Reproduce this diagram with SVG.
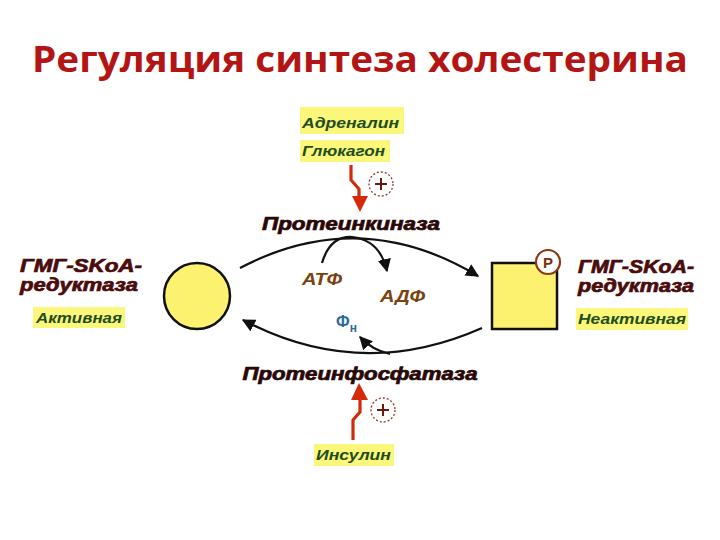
<svg xmlns="http://www.w3.org/2000/svg" width="720" height="540" viewBox="0 0 720 540">
<style>
.title{font-family:"Open Sans","Liberation Sans",sans-serif;font-weight:bold;font-size:35px;fill:#b31414}
.enz{font-family:"Liberation Sans",Arial,sans-serif;font-weight:bold;font-style:italic;font-size:18px;fill:#4a0c0c;stroke:#4a0c0c;stroke-width:0.7}
.lbl{font-family:"Liberation Sans",Arial,sans-serif;font-weight:bold;font-style:italic;font-size:18px;fill:#2a0808;stroke:#2a0808;stroke-width:0.7}
.grn{font-family:"Liberation Sans",Arial,sans-serif;font-style:italic;font-weight:bold;font-size:14px;fill:#1f4d1f}
.hl{fill:#fbf77a}
.nuc{font-family:"Liberation Sans",Arial,sans-serif;font-weight:bold;font-style:italic;font-size:16px;fill:#7a4210}
.pi{font-family:"Liberation Sans",Arial,sans-serif;font-weight:bold;font-size:16px;fill:#2b6a9a}
.arc{fill:none;stroke:#111;stroke-width:2.2}
.bolt{fill:none;stroke:#d42a0a;stroke-width:3.2;stroke-linejoin:miter}
.plus{fill:#fff;stroke:#8a3a2a;stroke-width:1.3;stroke-dasharray:2 2}
.pl{stroke:#6a1a0a;stroke-width:2}
</style>
<defs>
<marker id="ah" viewBox="0 0 10 10" refX="9" refY="5" markerWidth="6" markerHeight="6" orient="auto">
<path d="M0,0 L10,5 L0,10 Z" fill="#111"/>
</marker>
</defs>
<text class="title" x="360" y="72" text-anchor="middle" textLength="656" lengthAdjust="spacingAndGlyphs">Регуляция синтеза холестерина</text>

<g id="hormones-top">
<rect class="hl" x="300" y="107" width="104" height="27"/>
<text class="grn" x="302" y="128" textLength="97" lengthAdjust="spacingAndGlyphs">Адреналин</text>
<rect class="hl" x="300" y="140" width="90" height="22"/>
<text class="grn" x="302" y="156" textLength="83" lengthAdjust="spacingAndGlyphs">Глюкагон</text>
</g>

<g id="kinase">
<text class="lbl" x="351" y="230" text-anchor="middle" textLength="178" lengthAdjust="spacingAndGlyphs">Протеинкиназа</text>
</g>

<g id="phosphatase">
<text class="lbl" x="360" y="380" text-anchor="middle" textLength="235" lengthAdjust="spacingAndGlyphs">Протеинфосфатаза</text>
</g>

<g id="insulin">
<rect class="hl" x="314" y="444" width="80" height="22"/>
<text class="grn" x="316" y="460" textLength="75" lengthAdjust="spacingAndGlyphs">Инсулин</text>
</g>

<g id="active">
<text class="enz" x="20" y="272" textLength="122" lengthAdjust="spacingAndGlyphs">ГМГ-SKoA-</text>
<text class="enz" x="20" y="291" textLength="118" lengthAdjust="spacingAndGlyphs">редуктаза</text>
<rect class="hl" x="33" y="307" width="92" height="21"/>
<text class="grn" x="36" y="323" textLength="86" lengthAdjust="spacingAndGlyphs">Активная</text>
<circle cx="197" cy="296" r="33" fill="#fdf270" stroke="#111" stroke-width="2.5"/>
</g>

<g id="inactive">
<rect x="492" y="263" width="65" height="66" fill="#fdf270" stroke="#111" stroke-width="2.5"/>
<circle cx="548" cy="262" r="12" fill="#fff" stroke="#8a3a10" stroke-width="2.2"/>
<text x="548" y="268" text-anchor="middle" style="font-family:'Liberation Sans',Arial,sans-serif;font-weight:bold;font-size:15px;fill:#7a3010">P</text>
<text class="enz" x="578" y="273" textLength="116" lengthAdjust="spacingAndGlyphs">ГМГ-SKoA-</text>
<text class="enz" x="578" y="292" textLength="116" lengthAdjust="spacingAndGlyphs">редуктаза</text>
<rect class="hl" x="576" y="308" width="112" height="22"/>
<text class="grn" x="578" y="324" textLength="108" lengthAdjust="spacingAndGlyphs">Неактивная</text>
</g>

<g id="nucleotides">
<text class="nuc" x="302" y="285" textLength="40" lengthAdjust="spacingAndGlyphs">АТФ</text>
<text class="nuc" x="380" y="302" textLength="45" lengthAdjust="spacingAndGlyphs">АДФ</text>
<text class="pi" x="336" y="327">Ф<tspan font-size="12" dy="5">н</tspan></text>
</g>

<g id="modifiers">
<circle class="plus" cx="381" cy="184" r="12"/>
<path class="pl" d="M375,184 H387 M381,178 V190"/>
<circle class="plus" cx="383" cy="410" r="12"/>
<path class="pl" d="M377,410 H389 M383,404 V416"/>
</g>

<g id="connectors">
<path class="arc" d="M240,268 Q360,205 478,276" marker-end="url(#ah)"/>
<path class="arc" d="M322,263 Q330,236 352,237 Q380,240 387,271" marker-end="url(#ah)"/>
<path class="arc" d="M482,328 Q360,382 243,320" marker-end="url(#ah)"/>
<path class="arc" d="M390,354 Q372,350 360,337" marker-end="url(#ah)"/>
<path class="bolt" d="M351,165 V180 L359,189 V198"/>
<path d="M352,196 L368,196 L360,212 Z" fill="#d42a0a"/>
<path class="bolt" d="M353,440 V420 L360,412 V398"/>
<path d="M351,400 L368,400 L359,383 Z" fill="#d42a0a"/>
</g>
</svg>
